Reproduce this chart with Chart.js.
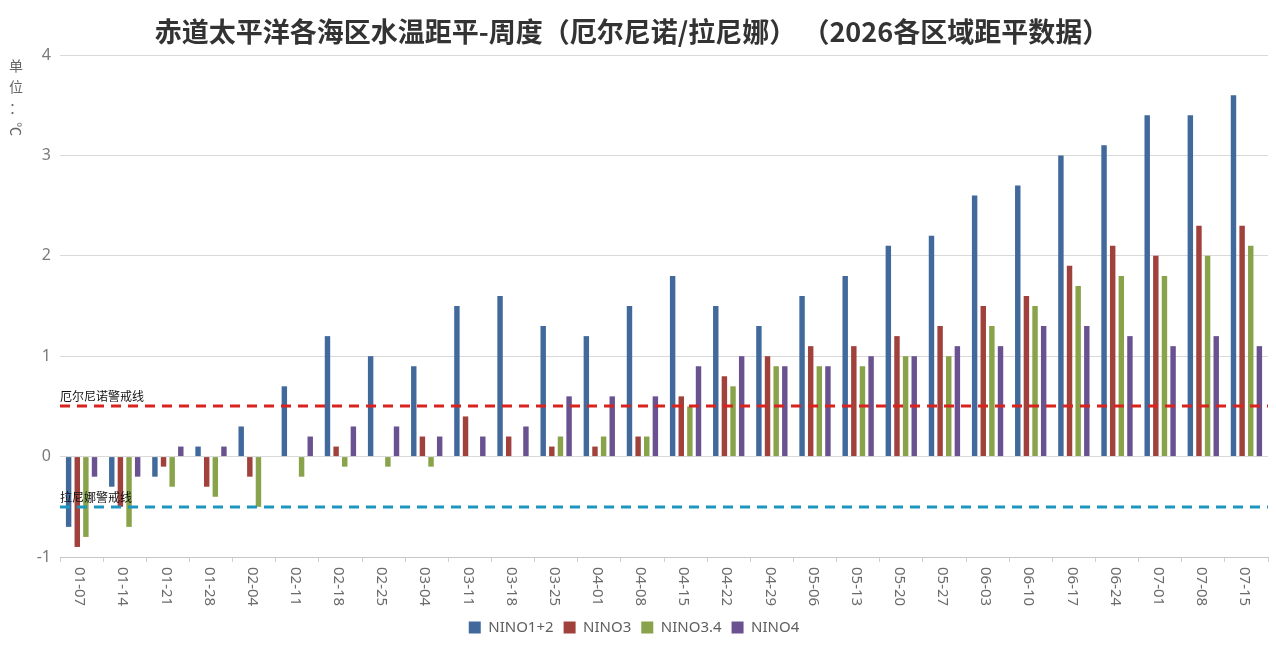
<!DOCTYPE html>
<html>
<head>
<meta charset="utf-8">
<script src="https://cdn.jsdelivr.net/npm/chart.js@4.4.1/dist/chart.umd.min.js"></script>
<style>
  html, body { margin: 0; padding: 0; background: #fff; }
</style>
</head>
<body>
<canvas id="myChart" width="1276" height="651"></canvas>
<script>
// Data
let weeks = ['01-07','01-14','01-21','01-28','02-04','02-11','02-18','02-25','03-04','03-11','03-18','03-25','04-01','04-08',
             '04-15','04-22','04-29','05-06','05-13','05-20','05-27','06-03','06-10','06-17','06-24','07-01','07-08','07-15'];
let nino12 = [-0.7,-0.3,-0.2,0.1,0.3,0.7,1.2,1.0,0.9,1.5,1.6,1.3,1.2,1.5,1.8,1.5,1.3,1.6,1.8,2.1,2.2,2.6,2.7,3.0,3.1,3.4,3.4,3.6];
let nino3  = [-0.9,-0.5,-0.1,-0.3,-0.2,0,0.1,0,0.2,0.4,0.2,0.1,0.1,0.2,0.6,0.8,1.0,1.1,1.1,1.2,1.3,1.5,1.6,1.9,2.1,2.0,2.3,2.3];
let nino34 = [-0.8,-0.7,-0.3,-0.4,-0.5,-0.2,-0.1,-0.1,-0.1,0,0,0.2,0.2,0.2,0.5,0.7,0.9,0.9,0.9,1.0,1.0,1.3,1.5,1.7,1.8,1.8,2.0,2.1];
let nino4  = [-0.2,-0.2,0.1,0.1,0,0.2,0.3,0.3,0.2,0.2,0.3,0.6,0.6,0.6,0.9,1.0,0.9,0.9,1.0,1.0,1.1,1.1,1.3,1.3,1.2,1.1,1.2,1.1];
let yTicks = [-1, 0, 1, 2, 3, 4];
let elNinoLine = 0.5;
let laNinaLine = -0.5;

let titleText = '赤道太平洋各海区水温距平-周度（厄尔尼诺/拉尼娜） （2026各区域距平数据）';

// custom drawing: title, unit label, x labels read top-down, warning lines
let extras = {
  id: 'extras',
  afterDatasetsDraw(chart) {
    let ctx = chart.ctx;
    let area = chart.chartArea;
    let y = chart.scales.y;
    let x = chart.scales.x;

    ctx.save();
    ctx.lineWidth = 3;
    ctx.setLineDash([10, 7]);
    ctx.strokeStyle = '#d9231f';
    let yr = Math.round(y.getPixelForValue(elNinoLine));
    ctx.beginPath(); ctx.moveTo(area.left, yr); ctx.lineTo(area.right, yr); ctx.stroke();
    ctx.strokeStyle = '#1e97c0';
    let yb = Math.round(y.getPixelForValue(laNinaLine));
    ctx.beginPath(); ctx.moveTo(area.left, yb); ctx.lineTo(area.right, yb); ctx.stroke();
    ctx.setLineDash([]);

    ctx.fillStyle = '#111';
    ctx.font = '12px "Noto Sans CJK SC"';
    ctx.textAlign = 'left';
    ctx.textBaseline = 'alphabetic';
    ctx.fillText('厄尔尼诺警戒线', area.left, yr - 5);
    ctx.fillText('拉尼娜警戒线', area.left, yb - 5);

    // x labels, rotated clockwise
    ctx.fillStyle = '#6b6b6b';
    ctx.font = '15px "Noto Sans"';
    ctx.textBaseline = 'middle';
    weeks.forEach((w, i) => {
      ctx.save();
      ctx.translate(x.getPixelForTick(i) - 2, x.top + 10);
      ctx.rotate(Math.PI / 2);
      ctx.fillText(w, 0, 0);
      ctx.restore();
    });

    // title
    ctx.fillStyle = '#333';
    ctx.font = 'bold 27px "Noto Sans CJK SC"';
    ctx.textAlign = 'center';
    ctx.fillText(titleText, 632, 32);

    // unit
    ctx.fillStyle = '#666';
    ctx.font = '14px "Noto Sans CJK SC"';
    ['单', '位', '：'].forEach((c, i) => ctx.fillText(c, 16, 66 + i * 21));
    ctx.translate(16, 129);
    ctx.rotate(Math.PI / 2);
    ctx.fillText('℃', 0, 0);
    ctx.restore();
  }
};

let ctx = document.getElementById('myChart').getContext('2d');
let myChart = new Chart(ctx, {
  type: 'bar',
  data: {
    labels: weeks,
    datasets: [
      { label: 'NINO1+2', data: nino12, backgroundColor: '#41699c' },
      { label: 'NINO3',   data: nino3,  backgroundColor: '#a0413c' },
      { label: 'NINO3.4', data: nino34, backgroundColor: '#88a34a' },
      { label: 'NINO4',   data: nino4,  backgroundColor: '#6a5290' }
    ]
  },
  options: {
    responsive: false,
    animation: false,
    devicePixelRatio: 1,
    layout: { padding: { top: 55, right: 8, left: 0, bottom: 6 } },
    datasets: { bar: { categoryPercentage: 0.8, barPercentage: 0.63 } },
    plugins: {
      title: { display: false },
      tooltip: { enabled: false },
      legend: {
        position: 'bottom',
        labels: {
          boxWidth: 12, boxHeight: 12, padding: 10,
          color: '#5f5f5f',
          font: { family: '"Noto Sans"', size: 15 }
        }
      }
    },
    scales: {
      x: {
        afterFit: s => { s.height = 53; },
        grid: { offset: true, drawOnChartArea: false, drawTicks: true, tickLength: 5, color: '#d0d0d0' },
        border: { display: true, color: '#c6c6c6' },
        ticks: { display: false }
      },
      y: {
        min: -1, max: 4,
        afterFit: s => { s.width = 60; },
        afterBuildTicks: s => { s.ticks = yTicks.map(v => ({ value: v })); },
        grid: { color: '#d9d9d9', drawTicks: false },
        border: { display: false },
        ticks: { color: '#7a7a7a', padding: 9, font: { family: '"Noto Sans"', size: 16 } }
      }
    }
  },
  plugins: [extras]
});
</script>
</body>
</html>
